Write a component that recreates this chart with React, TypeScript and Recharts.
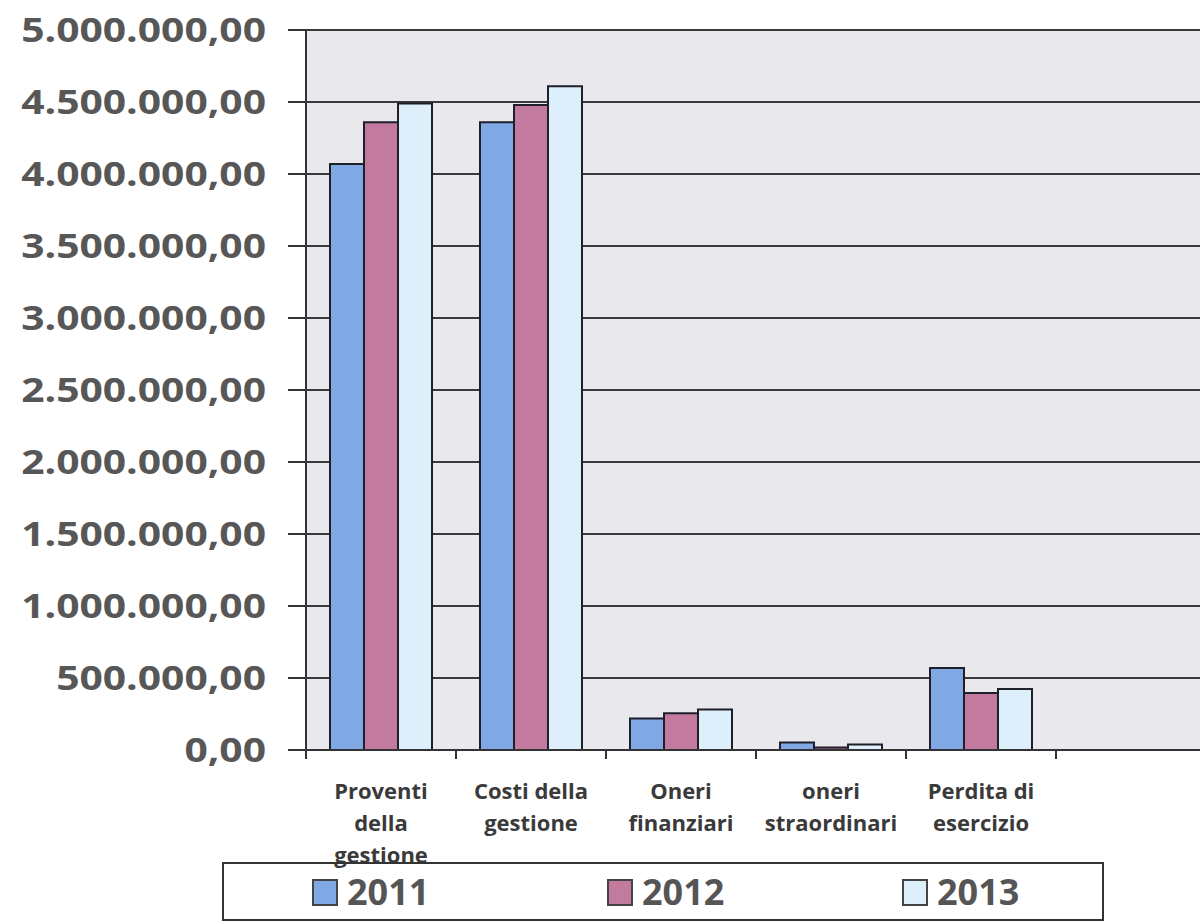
import React from "react";
import { BarChart, Bar, XAxis, YAxis, CartesianGrid } from "recharts";

const categories = [
  "Proventi della gestione",
  "Costi della gestione",
  "Oneri finanziari",
  "oneri straordinari",
  "Perdita di esercizio",
  "",
];
const series2011 = [4070000, 4360000, 218000, 52000, 570000, null];
const series2012 = [4360000, 4480000, 255000, 18000, 396000, null];
const series2013 = [4490000, 4610000, 282000, 38000, 424000, null];
const seriesNames = ["2011", "2012", "2013"];
const seriesColors = ["#80A8E4", "#C27B9E", "#DCEFFB"];
const yTicks = [0, 500000, 1000000, 1500000, 2000000, 2500000, 3000000, 3500000, 4000000, 4500000, 5000000];

const data = categories.map((c, i) => ({
  name: c,
  y2011: series2011[i],
  y2012: series2012[i],
  y2013: series2013[i],
}));

const CHART_W = 1208;
const CHART_H = 922;
const MARGIN = { top: 30, right: 2, left: 0, bottom: 0 };
const Y_W = 306;
const X_H = 172;
const BAND = (CHART_W - MARGIN.left - MARGIN.right - Y_W) / categories.length;

const fmt = (v: number) =>
  Math.round(v).toString().replace(/\B(?=(\d{3})+(?!\d))/g, ".") + ",00";

const wrap = (s: string, max = 12) => {
  const words = s.split(" ").filter(Boolean);
  const lines: string[] = [];
  let cur = "";
  for (const w of words) {
    if (!cur) cur = w;
    else if ((cur + " " + w).length <= max) cur += " " + w;
    else {
      lines.push(cur);
      cur = w;
    }
  }
  if (cur) lines.push(cur);
  return lines;
};

const YTick = (props: any) => {
  const { x, y, payload } = props;
  return (
    <text
      x={0}
      y={0}
      transform={`translate(${x},${y}) scale(1.2,1)`}
      textAnchor="end"
      dy="0.36em"
      fontFamily="'Open Sans', sans-serif"
      fontWeight={700}
      fontSize={34}
      fill="#575757"
    >
      {fmt(payload.value)}
    </text>
  );
};

const XTick = (props: any) => {
  const { x, y, payload } = props;
  const lines = wrap(String(payload.value));
  const bx = x - BAND / 2;
  return (
    <g>
      <line x1={bx} x2={bx} y1={y} y2={y + 9} stroke="#333" strokeWidth={2} />
      {lines.map((l, i) => (
        <text
          key={i}
          x={x}
          y={y + 49 + i * 32}
          textAnchor="middle"
          fontFamily="'Open Sans', sans-serif"
          fontWeight={700}
          fontSize={22}
          fill="#3a3a3a"
        >
          {l}
        </text>
      ))}
    </g>
  );
};

const legendLeft = [312, 607, 902];

export default function App() {
  return (
    <div
      style={{
        position: "absolute",
        left: 0,
        top: 0,
        width: 1200,
        height: 922,
        overflow: "hidden",
        background: "#ffffff",
      }}
    >
      <BarChart
        width={CHART_W}
        height={CHART_H}
        data={data}
        margin={MARGIN}
        barCategoryGap={24}
        barGap={0}
      >
        <CartesianGrid
          horizontal
          vertical={false}
          stroke="#3a3a3a"
          strokeWidth={2}
          fill="#E8E8ED"
          fillOpacity={1}
        />
        <XAxis
          dataKey="name"
          height={X_H}
          interval={0}
          tickLine={false}
          tickSize={0}
          tickMargin={0}
          axisLine={{ stroke: "#333", strokeWidth: 2 }}
          tick={<XTick />}
        />
        <YAxis
          width={Y_W}
          domain={[0, 5000000]}
          ticks={yTicks}
          interval={0}
          tickSize={18}
          tickMargin={22}
          tickLine={{ stroke: "#333", strokeWidth: 2 }}
          axisLine={{ stroke: "#333", strokeWidth: 2 }}
          tick={<YTick />}
        />
        <Bar dataKey="y2011" name={seriesNames[0]} fill={seriesColors[0]} stroke="#1f1f2a" strokeWidth={2} isAnimationActive={false} />
        <Bar dataKey="y2012" name={seriesNames[1]} fill={seriesColors[1]} stroke="#1f1f2a" strokeWidth={2} isAnimationActive={false} />
        <Bar dataKey="y2013" name={seriesNames[2]} fill={seriesColors[2]} stroke="#1f1f2a" strokeWidth={2} isAnimationActive={false} />
      </BarChart>
      <div
        style={{
          position: "absolute",
          left: 222,
          top: 862,
          width: 882,
          height: 59,
          border: "2px solid #333",
          boxSizing: "border-box",
          pointerEvents: "none",
        }}
      />
      {seriesNames.map((n, i) => (
        <div
          key={n}
          style={{
            position: "absolute",
            left: legendLeft[i],
            top: 870,
            height: 44,
            display: "flex",
            alignItems: "center",
            fontFamily: "'Open Sans', sans-serif",
            fontWeight: 700,
            fontSize: 36,
            color: "#555",
          }}
        >
          <span
            style={{
              display: "inline-block",
              width: 26,
              height: 27,
              boxSizing: "border-box",
              border: "2px solid #444",
              background: seriesColors[i],
              marginRight: 9,
            }}
          />
          <span style={{ lineHeight: "44px" }}>{n}</span>
        </div>
      ))}
    </div>
  );
}
